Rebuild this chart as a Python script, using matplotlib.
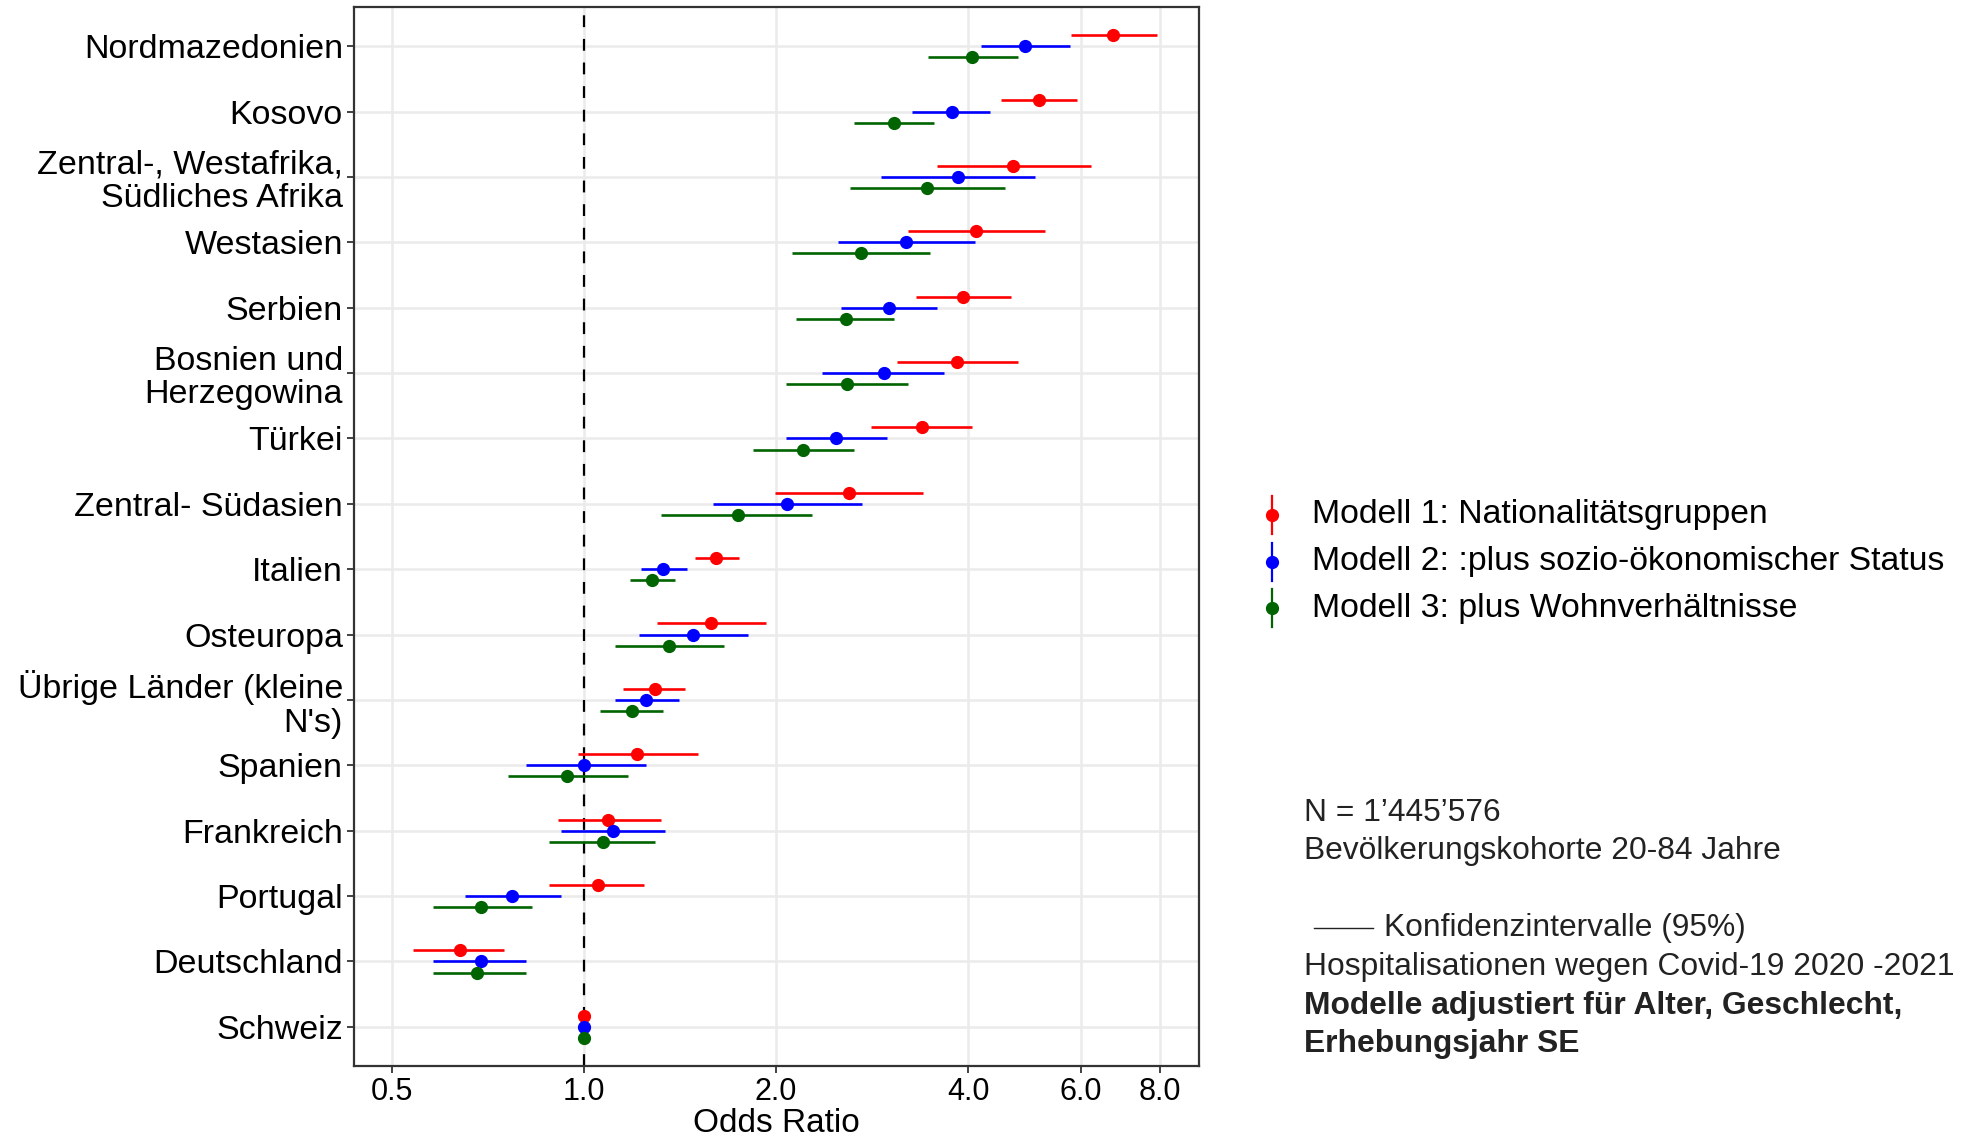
import numpy as np
import matplotlib
matplotlib.use('Agg')
import matplotlib.pyplot as plt
from matplotlib.lines import Line2D
from matplotlib.ticker import FixedLocator, FixedFormatter, NullLocator

plt.rcParams['font.family'] = ['Liberation Sans', 'DejaVu Sans']
plt.rcParams['lines.scale_dashes'] = False

# Regionen von oben nach unten
regionen = ['Nordmazedonien', 'Kosovo', 'Zentral-, Westafrika,\nSüdliches Afrika',
            'Westasien', 'Serbien', 'Bosnien und\nHerzegowina', 'Türkei',
            'Zentral- Südasien', 'Italien', 'Osteuropa',
            "Übrige Länder (kleine\nN's)", 'Spanien', 'Frankreich', 'Portugal',
            'Deutschland', 'Schweiz']

# Modell 1: Nationalitätsgruppen
or_m1 = [6.75, 5.16, 4.71, 4.11, 3.92, 3.84, 3.38, 2.60, 1.61, 1.58, 1.29, 1.21, 1.09, 1.05, 0.64, 1.0]
lo_m1 = [5.79, 4.51, 3.57, 3.22, 3.31, 3.09, 2.82, 1.99, 1.49, 1.30, 1.15, 0.98, 0.91, 0.88, 0.54, 1.0]
hi_m1 = [7.92, 5.93, 6.22, 5.27, 4.66, 4.79, 4.05, 3.40, 1.75, 1.93, 1.44, 1.51, 1.32, 1.24, 0.75, 1.0]

# Modell 2: plus sozio-ökonomischer Status
or_m2 = [4.91, 3.77, 3.85, 3.20, 3.01, 2.95, 2.48, 2.08, 1.33, 1.48, 1.25, 1.00, 1.11, 0.77, 0.69, 1.0]
lo_m2 = [4.19, 3.27, 2.92, 2.50, 2.53, 2.36, 2.07, 1.59, 1.23, 1.22, 1.12, 0.81, 0.92, 0.65, 0.58, 1.0]
hi_m2 = [5.77, 4.33, 5.09, 4.10, 3.58, 3.67, 2.98, 2.73, 1.45, 1.81, 1.41, 1.25, 1.34, 0.92, 0.81, 1.0]

# Modell 3: plus Wohnverhältnisse
or_m3 = [4.06, 3.06, 3.45, 2.72, 2.57, 2.58, 2.20, 1.74, 1.28, 1.36, 1.19, 0.94, 1.07, 0.69, 0.68, 1.0]
lo_m3 = [3.46, 2.65, 2.61, 2.12, 2.15, 2.07, 1.84, 1.32, 1.18, 1.12, 1.06, 0.76, 0.88, 0.58, 0.58, 1.0]
hi_m3 = [4.79, 3.53, 4.57, 3.48, 3.06, 3.22, 2.65, 2.28, 1.39, 1.66, 1.33, 1.17, 1.29, 0.83, 0.81, 1.0]

modelle = ['Modell 1: Nationalitätsgruppen',
           'Modell 2: :plus sozio-ökonomischer Status',
           'Modell 3: plus Wohnverhältnisse']
farben = ['#FF0000', '#0000FF', '#006400']

x_ticks = [0.5, 1.0, 2.0, 4.0, 6.0, 8.0]
x_ticklabels = ['0.5', '1.0', '2.0', '4.0', '6.0', '8.0']

W, H = 1979, 1145
fig = plt.figure(figsize=(W / 100, H / 100), dpi=100)
ax = fig.add_axes([354 / W, 1 - 1066 / H, (1199 - 354) / W, (1066 - 7) / H])

n = len(regionen)
pos = np.arange(n, 0, -1)
versatz = [0.17, 0.0, -0.17]
serien = [(or_m1, lo_m1, hi_m1), (or_m2, lo_m2, hi_m2), (or_m3, lo_m3, hi_m3)]

ax.axvline(1.0, color='black', lw=1.6, linestyle=(0, (8.5, 8.5)), zorder=2)

for (orv, lo, hi), dy, farbe in zip(serien, versatz, farben):
    orv = np.array(orv)
    err = [orv - np.array(lo), np.array(hi) - orv]
    ax.errorbar(orv, pos + dy, xerr=err, fmt='o', color=farbe, ms=8.5,
                elinewidth=1.9, capsize=0, zorder=3)

ax.set_xscale('log', base=2)
ax.set_xlim(0.436, 9.2)
ax.set_ylim(0.4, n + 0.6)
ax.xaxis.set_major_locator(FixedLocator(x_ticks))
ax.xaxis.set_major_formatter(FixedFormatter(x_ticklabels))
ax.xaxis.set_minor_locator(NullLocator())
ax.set_yticks(pos)
ax.set_yticklabels(regionen, fontsize=24.5, linespacing=1.1)
ax.tick_params(axis='x', labelsize=22, length=5, width=1.3, color='#333333', pad=3)
ax.tick_params(axis='y', length=5, width=1.3, color='#333333', pad=3)
ax.set_xlabel('Odds Ratio', fontsize=24, labelpad=1)

ax.grid(True, color='#EBEBEB', lw=1.8, zorder=0)
ax.set_axisbelow(True)
for s in ax.spines.values():
    s.set_color('#333333')
    s.set_linewidth(1.6)


def fx(px):
    return px / W


def fy(py):
    return 1 - py / H


# Legende mit senkrechten Schlüsseln
for i, (label, farbe) in enumerate(zip(modelle, farben)):
    yc = 515 + i * 46.7
    fig.add_artist(Line2D([fx(1272), fx(1272)], [fy(yc - 19), fy(yc + 19)],
                          transform=fig.transFigure, color=farbe, lw=1.6))
    fig.add_artist(Line2D([fx(1272)], [fy(yc)], transform=fig.transFigure,
                          marker='o', ms=8.5, color=farbe, lw=0))
    fig.text(fx(1312), fy(yc), label, fontsize=24.3, va='center', ha='left')

# Anmerkungen
txt_col = '#222222'
fs = 22.9
fig.text(fx(1304), fy(813), 'N = 1’445’576', fontsize=fs, va='center', color=txt_col)
fig.text(fx(1304), fy(851), 'Bevölkerungskohorte 20-84 Jahre', fontsize=fs,
         va='center', color=txt_col)
fig.add_artist(Line2D([fx(1314), fx(1373)], [fy(928), fy(928)],
                      transform=fig.transFigure, color=txt_col, lw=1.0))
fig.text(fx(1384), fy(928), 'Konfidenzintervalle (95%)', fontsize=fs,
         va='center', color=txt_col)
fig.text(fx(1304), fy(967), 'Hospitalisationen wegen Covid-19 2020 -2021',
         fontsize=fs, va='center', color=txt_col)
fig.text(fx(1304), fy(1006), 'Modelle adjustiert für Alter, Geschlecht,',
         fontsize=fs, va='center', fontweight='bold', color=txt_col)
fig.text(fx(1304), fy(1044), 'Erhebungsjahr SE', fontsize=fs, va='center',
         fontweight='bold', color=txt_col)

fig.savefig('out.png', dpi=100)
